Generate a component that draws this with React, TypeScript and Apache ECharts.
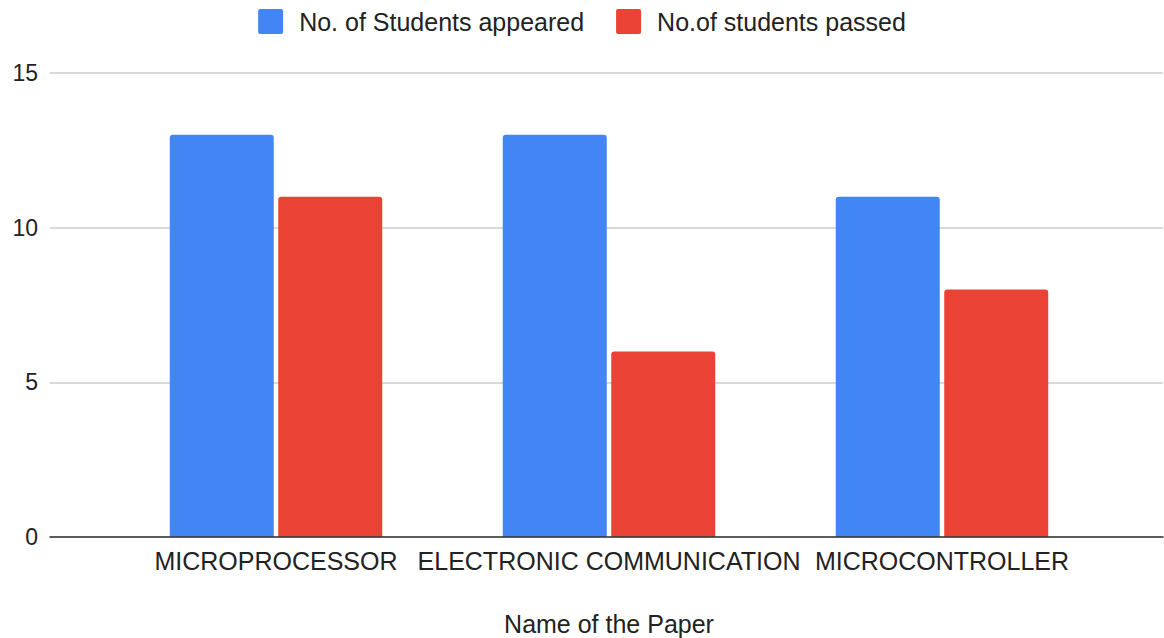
import React, { useEffect, useRef } from "react";
import * as echarts from "echarts";

const categories = ["MICROPROCESSOR", "ELECTRONIC COMMUNICATION", "MICROCONTROLLER"];
const appeared = [13, 13, 11];
const passed = [11, 6, 8];
const seriesNames = ["No. of Students appeared", "No.of students passed"];
const xAxisTitle = "Name of the Paper";
const yMin = 0;
const yMax = 15;
const yInterval = 5;

const FONT = "'Liberation Sans', Arial, sans-serif";
const ICON = "path://M2 0H23Q25 0 25 2V23Q25 25 23 25H2Q0 25 0 23V2Q0 0 2 0Z";

export default function App() {
  const ref = useRef<HTMLDivElement>(null);
  useEffect(() => {
    if (!ref.current) return;
    const chart = echarts.init(ref.current, null, { renderer: "svg" });
    chart.setOption({
      animation: false,
      textStyle: { fontFamily: FONT },
      legend: {
        top: 4,
        left: "center",
        itemWidth: 25,
        itemHeight: 25,
        itemGap: 32,
        icon: ICON,
        data: seriesNames,
        textStyle: { fontSize: 25, color: "#222", fontFamily: FONT, padding: [0, 0, 0, 11] },
      },
      grid: [
        { left: 50, right: 1, top: 73, bottom: 101, outerBoundsMode: "none", containLabel: false },
        { left: 109.5, width: 999, top: 73, bottom: 101, outerBoundsMode: "none", containLabel: false },
      ],
      xAxis: [
        {
          gridIndex: 0,
          type: "category",
          data: [""],
          axisLine: { show: true, lineStyle: { color: "#333", width: 1.5 } },
          axisTick: { show: false },
          axisLabel: { show: false },
          z: 5,
        },
        {
          gridIndex: 1,
          type: "category",
          data: categories,
          axisLine: { show: false },
          axisTick: { show: false },
          axisLabel: { fontSize: 25, color: "#222", margin: 11, fontFamily: FONT, interval: 0 },
          name: xAxisTitle,
          nameLocation: "middle",
          nameGap: 74,
          nameTextStyle: { fontSize: 25, color: "#222", fontFamily: FONT },
        },
      ],
      yAxis: [
        {
          gridIndex: 0,
          type: "value",
          min: yMin,
          max: yMax,
          interval: yInterval,
          axisLine: { show: false },
          axisTick: { show: false },
          axisLabel: { fontSize: 23, color: "#222", margin: 12, fontFamily: FONT },
          splitLine: { lineStyle: { color: "#ccc", width: 1.5 } },
        },
        {
          gridIndex: 1,
          type: "value",
          min: yMin,
          max: yMax,
          interval: yInterval,
          show: false,
          splitLine: { show: false },
        },
      ],
      series: [
        {
          name: seriesNames[0],
          type: "bar",
          xAxisIndex: 1,
          yAxisIndex: 1,
          data: appeared,
          barWidth: 104,
          barGap: "4.3%",
          itemStyle: { color: "#4285F4", borderRadius: [3, 3, 0, 0] },
        },
        {
          name: seriesNames[1],
          type: "bar",
          xAxisIndex: 1,
          yAxisIndex: 1,
          data: passed,
          barWidth: 104,
          barGap: "4.3%",
          itemStyle: { color: "#EA4335", borderRadius: [3, 3, 0, 0] },
        },
      ],
    });
    return () => chart.dispose();
  }, []);
  return (
    <div
      ref={ref}
      style={{ position: "fixed", left: 0, top: 0, width: 1164, height: 638, background: "#fff" }}
    />
  );
}
